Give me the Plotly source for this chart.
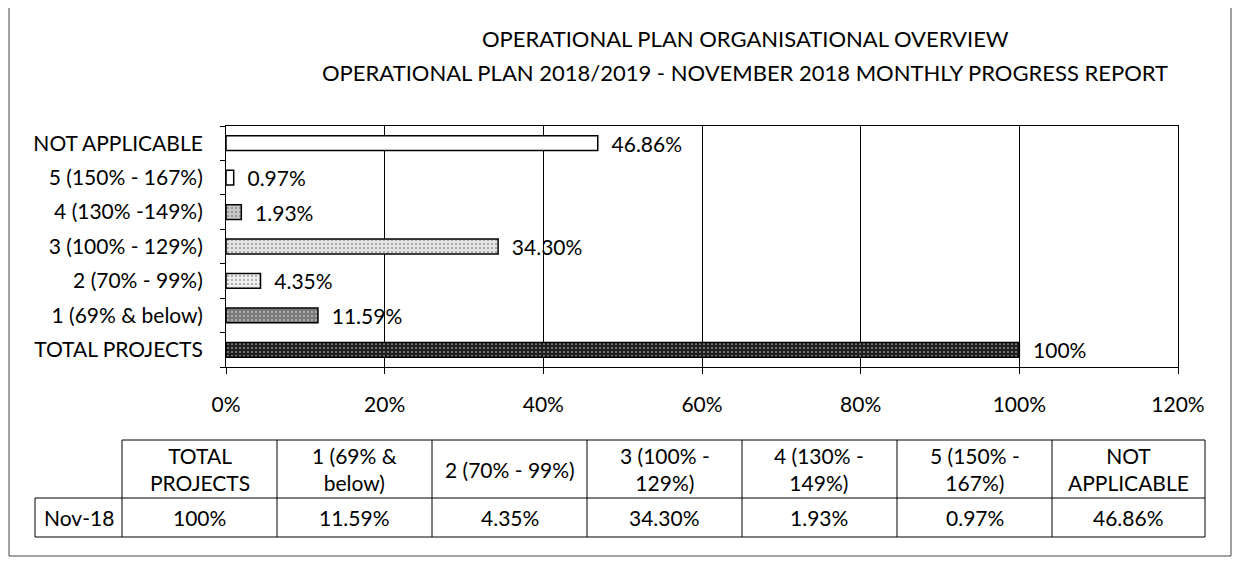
import plotly.graph_objects as go

# ---- data ----
categories = ["TOTAL PROJECTS", "1 (69% & below)", "2 (70% - 99%)", "3 (100% - 129%)",
              "4 (130% -149%)", "5 (150% - 167%)", "NOT APPLICABLE"]
values = [100, 11.59, 4.35, 34.30, 1.93, 0.97, 46.86]
value_labels = ["100%", "11.59%", "4.35%", "34.30%", "1.93%", "0.97%", "46.86%"]
table_headers = ["TOTAL<br>PROJECTS", "1 (69% &<br>below)", "2 (70% - 99%)", "3 (100% -<br>129%)",
                 "4 (130% -<br>149%)", "5 (150% -<br>167%)", "NOT<br>APPLICABLE"]
row_label = "Nov-18"
x_ticks = [0, 20, 40, 60, 80, 100, 120]
x_tick_labels = ["0%", "20%", "40%", "60%", "80%", "100%", "120%"]
title_lines = ["OPERATIONAL PLAN ORGANISATIONAL OVERVIEW",
               "OPERATIONAL PLAN 2018/2019 - NOVEMBER 2018 MONTHLY PROGRESS REPORT"]

# ---- styling / layout ----
OFF = 8                       # page body margin
W, H = 1242 - OFF, 565 - OFF
FONT = "Lato"
FS = 21
bar_color = ["#202020", "#7a7a7a", "#f0f0f0", "#e4e4e4", "#c8c8c8", "white", "white"]
bar_fg = ["#8a8a8a", "#404040", "#9a9a9a", "#9a9a9a", "#707070", "black", "black"]
bar_shape = [".", ".", ".", ".", ".", "", ""]

# table geometry (window pixels)
col_edges = [35, 122, 277, 432, 587, 742, 897, 1052, 1205]
tab_top, tab_mid, tab_bot = 440, 498, 537


def px(x):
    return (x - OFF) / W


def py(y):
    return 1 - (y - OFF) / H


fig = go.Figure()
fig.add_trace(go.Bar(
    y=categories, x=values, orientation="h",
    text=value_labels, texttemplate="\u00a0\u00a0%{text}", textposition="outside",
    constraintext="none",
    textfont=dict(family=FONT, size=FS, color="black"),
    cliponaxis=False, width=0.43,
    marker=dict(color=bar_color, line=dict(color="black", width=1.5),
                pattern=dict(shape=bar_shape, fgcolor=bar_fg, size=4, solidity=0.18,
                             fillmode="overlay")),
    showlegend=False, hoverinfo="skip",
))

shapes = [dict(type="rect", xref="paper", yref="paper",
               x0=px(9), x1=px(1231), y0=py(556), y1=py(4),
               line=dict(color="#444", width=1), fillcolor="rgba(0,0,0,0)", layer="below")]
line_style = dict(color="black", width=1)


def hline(x0, x1, y):
    shapes.append(dict(type="line", xref="paper", yref="paper", x0=px(x0), x1=px(x1),
                       y0=py(y), y1=py(y), line=line_style))


def vline(x, y0, y1):
    shapes.append(dict(type="line", xref="paper", yref="paper", x0=px(x), x1=px(x),
                       y0=py(y0), y1=py(y1), line=line_style))


hline(col_edges[1], col_edges[-1], tab_top)
hline(col_edges[0], col_edges[-1], tab_mid)
hline(col_edges[0], col_edges[-1], tab_bot)
vline(col_edges[0], tab_mid, tab_bot)
for e in col_edges[1:]:
    vline(e, tab_top, tab_bot)


def label(text, x, y, size=FS):
    return dict(text=text, x=px(x), y=py(y), xref="paper", yref="paper",
                xanchor="center", yanchor="middle", showarrow=False,
                font=dict(family=FONT, size=size, color="black"))


annotations = [label(title_lines[0], 745, 39, 22), label(title_lines[1], 745, 72, 22)]
# table texts
annotations.append(label(row_label, (col_edges[0] + col_edges[1]) / 2, (tab_mid + tab_bot) / 2))
for i, (hdr, val) in enumerate(zip(table_headers, value_labels)):
    cx = (col_edges[i + 1] + col_edges[i + 2]) / 2
    annotations.append(label(hdr, cx, (tab_top + tab_mid) / 2))
    annotations.append(label(val, cx, (tab_mid + tab_bot) / 2))

fig.update_layout(
    width=W, height=H,
    margin=dict(l=0, r=0, t=0, b=0),
    paper_bgcolor="white", plot_bgcolor="white",
    font=dict(family=FONT, size=FS, color="black"),
    xaxis=dict(domain=[px(226), px(1178)], range=[0, 120], automargin=False,
               tickvals=x_ticks, ticktext=x_tick_labels,
               tickfont=dict(family=FONT, size=FS, color="black"),
               showgrid=True, gridcolor="black", gridwidth=1,
               showline=True, linecolor="black", linewidth=1, mirror=True,
               ticks="outside", ticklen=6, tickcolor="black",
               ticklabelstandoff=13, zeroline=False, fixedrange=True),
    yaxis=dict(domain=[py(367), py(126)], categoryorder="array", categoryarray=categories,
               automargin=False,
               tickfont=dict(family=FONT, size=FS, color="black"),
               showline=True, linecolor="black", linewidth=1, mirror=True,
               ticks="outside", ticklen=5, tickcolor="black", tickson="boundaries",
               ticklabelstandoff=18, showgrid=False, fixedrange=True),
    shapes=shapes,
    annotations=annotations,
)

fig.write_html("out.html")
